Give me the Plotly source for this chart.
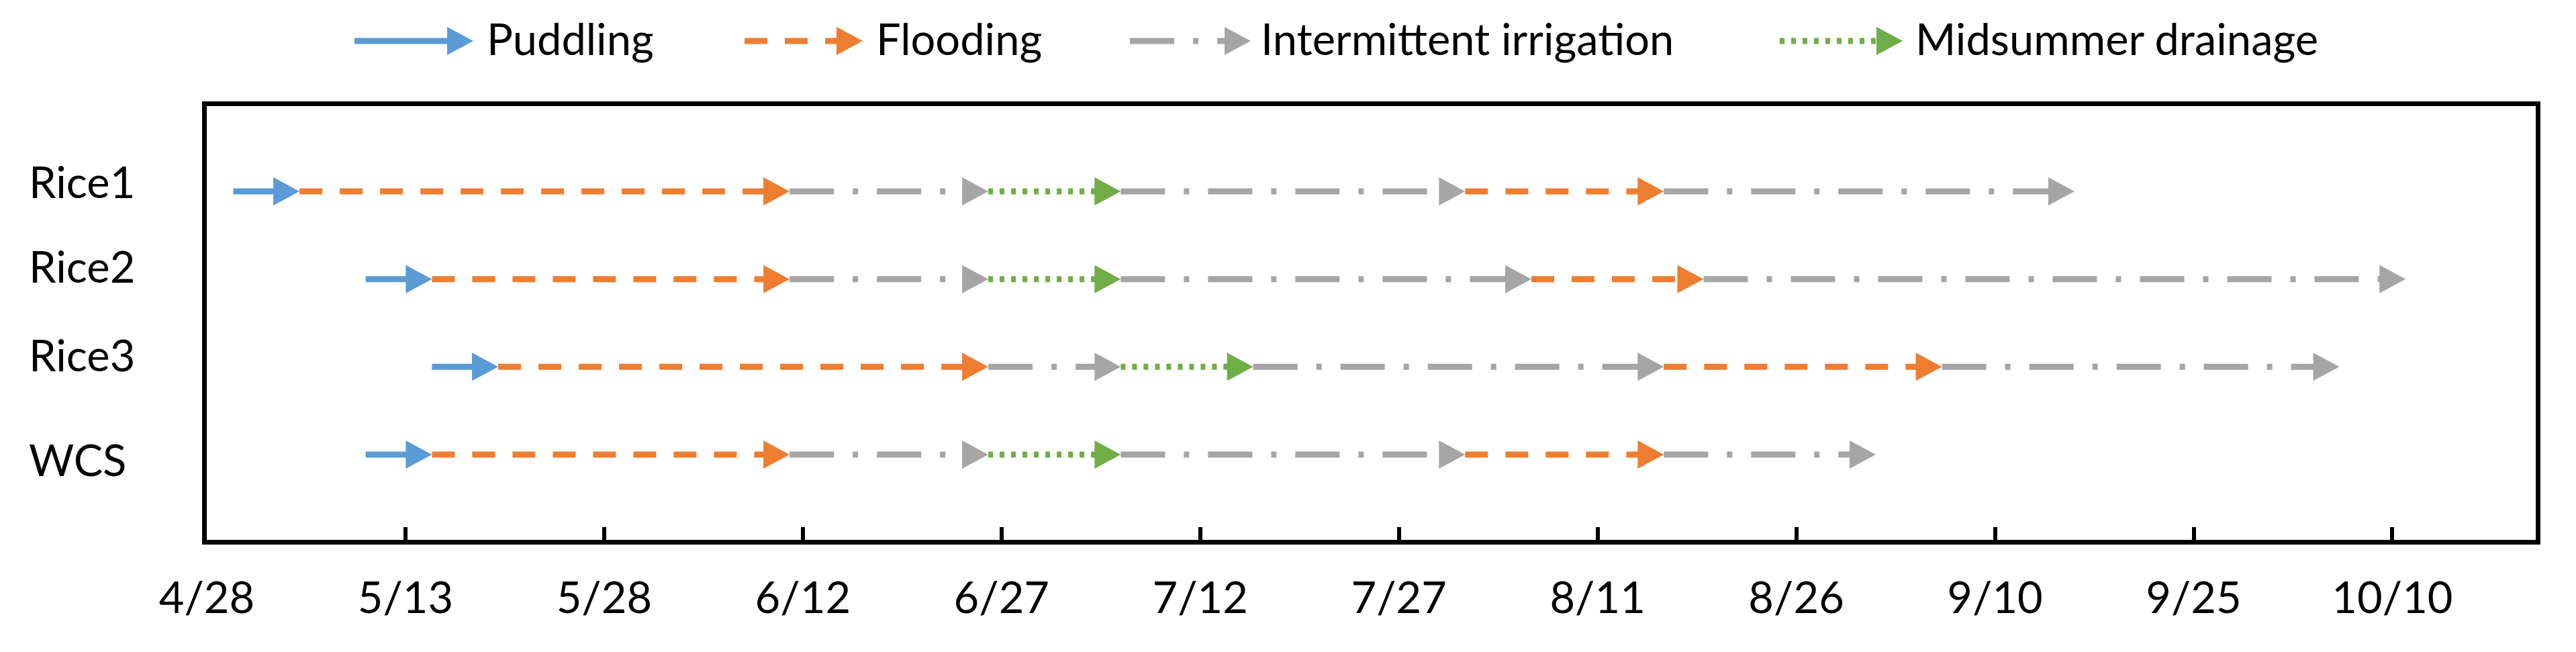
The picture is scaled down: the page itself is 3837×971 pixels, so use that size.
import plotly.graph_objects as go
import pandas as pd

YEAR = 2021

# ---------------- data ----------------
rows = ["Rice1", "Rice2", "Rice3", "WCS"]
row_pos = [4, 3, 2, 1]
phase_names = ["Puddling", "Flooding", "Intermittent irrigation", "Midsummer drainage"]
phase_sequence = ["Puddling", "Flooding", "Intermittent irrigation", "Midsummer drainage",
                  "Intermittent irrigation", "Flooding", "Intermittent irrigation"]
row_starts = ["04-30", "05-10", "05-15", "05-10"]
rice1_ends = ["05-05", "06-11", "06-26", "07-06", "08-01", "08-16", "09-16"]
rice2_ends = ["05-15", "06-11", "06-26", "07-06", "08-06", "08-19", "10-11"]
rice3_ends = ["05-20", "06-26", "07-06", "07-16", "08-16", "09-06", "10-06"]
wcs_ends = ["05-15", "06-11", "06-26", "07-06", "08-01", "08-16", "09-01"]
row_ends = [rice1_ends, rice2_ends, rice3_ends, wcs_ends]
tick_labels = ["4/28", "5/13", "5/28", "6/12", "6/27", "7/12", "7/27",
               "8/11", "8/26", "9/10", "9/25", "10/10"]

# ---------------- styles ----------------
colors = {"Puddling": "#5B9BD5", "Flooding": "#ED7D31",
          "Intermittent irrigation": "#A5A5A5", "Midsummer drainage": "#70AD47"}
dashes = {"Puddling": "solid", "Flooding": "34px,26px",
          "Intermittent irrigation": "66px,28px,8px,28px", "Midsummer drainage": "7px,10px"}
FONT = "Lato"
FS = 65
LW = 9
W, H = 3837, 971
PX_PER_DAY = 19.73
PX_PER_ROW = 130.67
HEAD_LEN_PX = 39
HEAD_HALF_PX = 21


def ts(md):
    return pd.Timestamp(f"{YEAR}-{md}")


def tick_ts(lbl):
    m, d = lbl.split("/")
    return pd.Timestamp(year=YEAR, month=int(m), day=int(d))


head_len = pd.Timedelta(days=HEAD_LEN_PX / PX_PER_DAY)
head_half = HEAD_HALF_PX / PX_PER_ROW
overlap = pd.Timedelta(days=0.3)

fig = go.Figure()

line_x = {p: [] for p in phase_names}
line_y = {p: [] for p in phase_names}
head_x = {p: [] for p in phase_names}
head_y = {p: [] for p in phase_names}

for r, ypos, start, ends in zip(rows, row_pos, row_starts, row_ends):
    cur = ts(start)
    for ph, e in zip(phase_sequence, ends):
        tip = ts(e)
        base = tip - head_len
        line_x[ph] += [cur, base + overlap, None]
        line_y[ph] += [ypos, ypos, None]
        head_x[ph] += [base, tip, base, base, None]
        head_y[ph] += [ypos + head_half, ypos, ypos - head_half, ypos + head_half, None]
        cur = tip

for ph in phase_names:
    fig.add_trace(go.Scatter(x=line_x[ph], y=line_y[ph], mode="lines",
                             line=dict(color=colors[ph], width=LW, dash=dashes[ph]),
                             showlegend=False, hoverinfo="skip", xaxis="x", yaxis="y"))
for ph in phase_names:
    fig.add_trace(go.Scatter(x=head_x[ph], y=head_y[ph], mode="lines", fill="toself",
                             fillcolor=colors[ph], line=dict(color=colors[ph], width=0),
                             showlegend=False, hoverinfo="skip", xaxis="x", yaxis="y"))

# ---------------- legend (pixel-space overlay axes) ----------------
leg_line_start = [528, 1109, 1683, 2651]
leg_tip = [705, 1285, 1863, 2834]
leg_text_x = [723, 1303, 1876, 2851]
leg_y = 61
leg_text_y = 57
for ph, x0, xt, tx in zip(phase_names, leg_line_start, leg_tip, leg_text_x):
    fig.add_trace(go.Scatter(x=[x0, xt - HEAD_LEN_PX + 6], y=[leg_y, leg_y], mode="lines",
                             line=dict(color=colors[ph], width=LW, dash=dashes[ph]),
                             showlegend=False, hoverinfo="skip", xaxis="x2", yaxis="y2"))
    fig.add_trace(go.Scatter(x=[xt - HEAD_LEN_PX, xt, xt - HEAD_LEN_PX, xt - HEAD_LEN_PX],
                             y=[leg_y - HEAD_HALF_PX, leg_y, leg_y + HEAD_HALF_PX, leg_y - HEAD_HALF_PX],
                             mode="lines", fill="toself", fillcolor=colors[ph],
                             line=dict(color=colors[ph], width=0),
                             showlegend=False, hoverinfo="skip", xaxis="x2", yaxis="y2"))
    fig.add_annotation(x=tx, y=leg_text_y, xref="x2", yref="y2", text=ph, showarrow=False,
                       xanchor="left", yanchor="middle",
                       font=dict(family=FONT, size=FS, color="black"))

# row labels
label_x = 41
label_y = [270, 396, 528, 684]
for r, ly in zip(rows, label_y):
    fig.add_annotation(x=label_x, y=ly, xref="x2", yref="y2", text=r, showarrow=False,
                       xanchor="left", yanchor="middle",
                       font=dict(family=FONT, size=FS, color="black"))

# ---------------- axes ----------------
x_left_px, x_right_px = 308, 3777
zero_px = 308
x0 = tick_ts(tick_labels[0]) + pd.Timedelta(days=(x_left_px - zero_px) / PX_PER_DAY)
x1 = tick_ts(tick_labels[0]) + pd.Timedelta(days=(x_right_px - zero_px) / PX_PER_DAY)

y_top_px, y_bot_px = 158, 804
rice1_px, wcs_px = 285, 677
y_hi = 4 + (rice1_px - y_top_px) / PX_PER_ROW
y_lo = 1 - (y_bot_px - wcs_px) / PX_PER_ROW

fig.update_layout(
    width=W, height=H,
    margin=dict(l=0, r=0, t=0, b=0),
    paper_bgcolor="white", plot_bgcolor="rgba(0,0,0,0)",
    showlegend=False,
    xaxis=dict(domain=[x_left_px / W, x_right_px / W], type="date",
               range=[x0, x1], tickvals=[tick_ts(t) for t in tick_labels], ticktext=tick_labels,
               ticks="inside", ticklen=19, tickwidth=6, tickcolor="black",
               showline=True, linewidth=7, linecolor="black", mirror=True,
               showgrid=False, zeroline=False, automargin=False,
               ticklabelstandoff=24,
               tickfont=dict(family=FONT, size=FS, color="black")),
    yaxis=dict(domain=[(H - y_bot_px) / H, (H - y_top_px) / H], range=[y_lo, y_hi],
               showticklabels=False, ticks="", showline=True, linewidth=7, linecolor="black",
               mirror=True, showgrid=False, zeroline=False, automargin=False),
    xaxis2=dict(domain=[0, 1], range=[0, W], visible=False, anchor="y2"),
    yaxis2=dict(domain=[0, 1], range=[H, 0], visible=False, anchor="x2"),
)

fig.write_html("out.html",
               config={"displayModeBar": False},
               post_script="document.body.style.margin='0';document.body.style.overflow='hidden';")
